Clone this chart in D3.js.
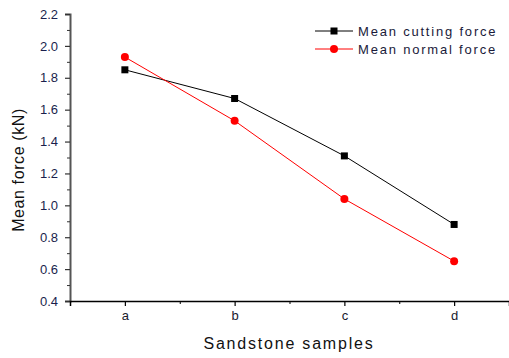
<!DOCTYPE html>
<html>
<head>
<meta charset="utf-8">
<script src="https://cdn.jsdelivr.net/npm/d3@7"></script>
<style>
  body { margin: 0; background: #fff; }
  svg { display: block; font-family: Arial, "Liberation Sans", sans-serif; }
</style>
</head>
<body>
<svg width="509" height="358"></svg>
<script>
const samples = ['a', 'b', 'c', 'd'];
const cuttingForce = [1.85, 1.67, 1.31, 0.88];
const normalForce = [1.93, 1.53, 1.04, 0.65];
const yTicks = [0.4, 0.6, 0.8, 1.0, 1.2, 1.4, 1.6, 1.8, 2.0, 2.2];
const yMinor = [0.5, 0.7, 0.9, 1.1, 1.3, 1.5, 1.7, 1.9, 2.1];
const xMinor = [1.5, 2.5, 3.5];

const svg = d3.select('svg');
const plotLeft = 70, plotRight = 509, plotTop = 14, plotBottom = 301;

const x = d3.scaleLinear().domain([0.5, 4.5]).range([plotLeft, plotRight]);
const y = d3.scaleLinear().domain([0.4, 2.2]).range([plotBottom, plotTop]);

// y axis
const yAxis = svg.append('g').attr('transform', `translate(${plotLeft},0)`)
    .call(d3.axisLeft(y).tickValues(yTicks).tickFormat(d3.format('.1f')).tickSize(5).tickPadding(7));
yAxis.select('.domain').attr('stroke', '#555').attr('stroke-width', 2);
yAxis.selectAll('.tick line').attr('stroke', '#333').attr('stroke-width', 1.2);
yAxis.selectAll('.tick text').attr('fill', '#1a1f4d').style('font-size', '13px');
svg.append('g').attr('transform', `translate(${plotLeft},0)`)
    .call(d3.axisLeft(y).tickValues(yMinor).tickFormat('').tickSize(3))
    .call(g => g.select('.domain').remove())
    .selectAll('.tick line').attr('stroke', '#333');

// x axis
const xAxis = svg.append('g').attr('transform', `translate(0,${plotBottom})`)
    .call(d3.axisBottom(x).tickValues([1, 2, 3, 4]).tickFormat((d, i) => samples[i]).tickSize(5).tickPadding(5));
xAxis.select('.domain').attr('stroke', '#000').attr('stroke-width', 1.5);
xAxis.selectAll('.tick line').attr('stroke', '#000').attr('stroke-width', 1.2);
xAxis.selectAll('.tick text').attr('fill', '#1a1a2e').style('font-size', '13px');
svg.append('g').attr('transform', `translate(0,${plotBottom})`)
    .call(d3.axisBottom(x).tickValues(xMinor).tickFormat('').tickSize(3))
    .call(g => g.select('.domain').remove())
    .selectAll('.tick line').attr('stroke', '#000');

// axis titles
svg.append('text')
    .attr('transform', 'translate(24,170) rotate(-90)')
    .attr('text-anchor', 'middle')
    .style('font-size', '16px')
    .style('letter-spacing', '0.6px')
    .attr('fill', '#111')
    .text('Mean force (kN)');
svg.append('text')
    .attr('x', 289).attr('y', 349)
    .attr('text-anchor', 'middle')
    .style('font-size', '16px')
    .style('letter-spacing', '1.8px')
    .attr('fill', '#111')
    .text('Sandstone samples');

const line = d3.line().x((d, i) => x(i + 1)).y(d => y(d));

// cutting force series
svg.append('path').datum(cuttingForce)
    .attr('d', line).attr('fill', 'none').attr('stroke', '#000').attr('stroke-width', 1);
svg.selectAll('.sq').data(cuttingForce).enter().append('rect')
    .attr('x', (d, i) => x(i + 1) - 3.5).attr('y', d => y(d) - 3.5)
    .attr('width', 7).attr('height', 7).attr('fill', '#000');

// normal force series
svg.append('path').datum(normalForce)
    .attr('d', line).attr('fill', 'none').attr('stroke', '#ff0000').attr('stroke-width', 1);
svg.selectAll('.dot').data(normalForce).enter().append('circle')
    .attr('cx', (d, i) => x(i + 1)).attr('cy', d => y(d))
    .attr('r', 4).attr('fill', '#ff0000');

// legend
const legend = [
  { name: 'Mean cutting force', color: '#000', shape: 'square' },
  { name: 'Mean normal force', color: '#ff0000', shape: 'circle' }
];
legend.forEach((l, i) => {
  const ly = 31 + i * 18;
  svg.append('line').attr('x1', 315).attr('x2', 353).attr('y1', ly).attr('y2', ly)
      .attr('stroke', l.color).attr('stroke-width', 1);
  if (l.shape === 'square') {
    svg.append('rect').attr('x', 330.5).attr('y', ly - 3.5).attr('width', 7).attr('height', 7).attr('fill', l.color);
  } else {
    svg.append('circle').attr('cx', 334).attr('cy', ly).attr('r', 4).attr('fill', l.color);
  }
  svg.append('text').attr('x', 358).attr('y', ly + 5)
      .style('font-size', '13px').style('letter-spacing', '1.8px')
      .attr('fill', '#1a1a3a')
      .text(l.name);
});
</script>
</body>
</html>
